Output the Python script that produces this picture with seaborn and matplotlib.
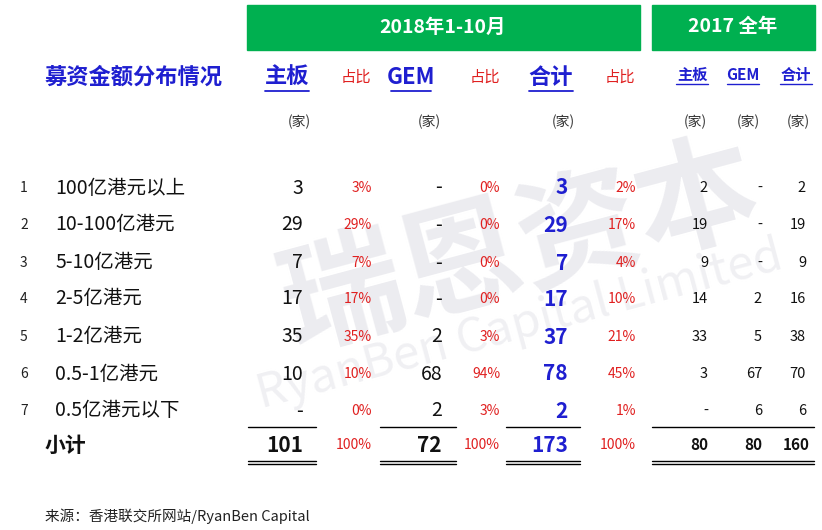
import matplotlib
matplotlib.use("Agg")
import matplotlib.pyplot as plt
import seaborn as sns
from matplotlib.patches import Rectangle

sns.set_theme(style="white")
plt.rcParams["font.family"] = ["Noto Sans CJK SC", "DejaVu Sans"]

categories = ["100亿港元以上", "10-100亿港元", "5-10亿港元", "2-5亿港元", "1-2亿港元", "0.5-1亿港元", "0.5亿港元以下"]
main_board = [3, 29, 7, 17, 35, 10, 0]
main_pct = ["3%", "29%", "7%", "17%", "35%", "10%", "0%"]
gem = [0, 0, 0, 0, 2, 68, 2]
gem_pct = ["0%", "0%", "0%", "0%", "3%", "94%", "3%"]
total = [3, 29, 7, 17, 37, 78, 2]
total_pct = ["2%", "17%", "4%", "10%", "21%", "45%", "1%"]
main_2017 = [2, 19, 9, 14, 33, 3, 0]
gem_2017 = [0, 0, 0, 2, 5, 67, 6]
total_2017 = [2, 19, 9, 16, 38, 70, 6]
subtotal = [101, 72, 173, 80, 80, 160]

GREEN = "#00b050"; BLUE = "#1f1fd0"; RED = "#e02020"

fig = plt.figure(figsize=(8.22, 5.30), dpi=100)
ax = fig.add_axes([0, 0, 1, 1])
ax.set_xlim(0, 822); ax.set_ylim(530, 0); ax.axis("off")

# watermark
ax.text(520, 250, "瑞恩资本", fontsize=88, color="#ececf0", rotation=15, ha="center", va="center", fontweight="bold", zorder=0)
ax.text(520, 325, "RyanBen Capital Limited", fontsize=34, color="#f0f0f3", rotation=15, ha="center", va="center", zorder=0)

ax.add_patch(Rectangle((247, 5), 393, 45, color=GREEN))
ax.add_patch(Rectangle((652, 5), 163, 45, color=GREEN))
ax.text(443, 27, "2018年1-10月", color="white", fontsize=14, fontweight="bold", ha="center", va="center")
ax.text(733, 27, "2017 全年", color="white", fontsize=14, fontweight="bold", ha="center", va="center")

ax.text(45, 77, "募资金额分布情况", color=BLUE, fontsize=16, fontweight="bold", va="center")
def uhead(x, s, fs):
    ax.text(x, 77, s, color=BLUE, fontsize=fs, fontweight="bold", ha="center", va="center")
    w = len(s) * fs * 1.35 if any(ord(c) > 255 for c in s) else len(s) * fs * 0.85
    ax.plot([x - w/2, x + w/2], [91, 91], color=BLUE, lw=1.3)
uhead(287, "主板", 16); uhead(411, "GEM", 16); uhead(551, "合计", 16)
for x in (356, 485, 620):
    ax.text(x, 77, "占比", color=RED, fontsize=11, ha="center", va="center")
for x, s in ((692, "主板"), (743, "GEM"), (796, "合计")):
    ax.text(x, 75, s, color=BLUE, fontsize=11, fontweight="bold", ha="center", va="center")
    ax.plot([x - 16, x + 16], [84, 84], color=BLUE, lw=1)
for x in (299, 429, 563, 695, 748, 798):
    ax.text(x, 122, "(家)", fontsize=10, ha="center", va="center", color="#333333")

rows_y = [188, 225, 263, 299, 337, 374, 411]
def d(v): return "-" if v == 0 else str(v)
for i, y in enumerate(rows_y):
    ax.text(20, y, str(i + 1), fontsize=10, va="center", color="#222222")
    ax.text(55, y, categories[i], fontsize=14, va="center", color="#111111")
    ax.text(303, y, d(main_board[i]), fontsize=14, ha="right", va="center", color="#111111")
    ax.text(372, y, main_pct[i], fontsize=10, ha="right", va="center", color=RED)
    ax.text(442, y, d(gem[i]), fontsize=14, ha="right", va="center", color="#111111")
    ax.text(500, y, gem_pct[i], fontsize=10, ha="right", va="center", color=RED)
    ax.text(568, y, d(total[i]), fontsize=15, fontweight="bold", ha="right", va="center", color=BLUE)
    ax.text(636, y, total_pct[i], fontsize=10, ha="right", va="center", color=RED)
    ax.text(708, y, d(main_2017[i]), fontsize=10.5, ha="right", va="center", color="#111111")
    ax.text(762, y, d(gem_2017[i]), fontsize=10.5, ha="right", va="center", color="#111111")
    ax.text(806, y, d(total_2017[i]), fontsize=10.5, ha="right", va="center", color="#111111")

for x0, x1 in ((248, 316), (380, 456), (506, 580), (652, 814)):
    ax.plot([x0, x1], [427, 427], color="black", lw=1)
    ax.plot([x0, x1], [461, 461], color="black", lw=1)
    ax.plot([x0, x1], [464, 464], color="black", lw=1)
y = 445
ax.text(45, y, "小计", fontsize=15, fontweight="bold", va="center", color="#111111")
ax.text(303, y, str(subtotal[0]), fontsize=15, fontweight="bold", ha="right", va="center", color="#111111")
ax.text(442, y, str(subtotal[1]), fontsize=15, fontweight="bold", ha="right", va="center", color="#111111")
ax.text(568, y, str(subtotal[2]), fontsize=15, fontweight="bold", ha="right", va="center", color=BLUE)
for x in (372, 500, 636):
    ax.text(x, y, "100%", fontsize=10, ha="right", va="center", color=RED)
for x, v in zip((708, 762, 810), subtotal[3:]):
    ax.text(x, y, str(v), fontsize=11, fontweight="bold", ha="right", va="center", color="#111111")

ax.text(45, 516, "来源：香港联交所网站/RyanBen Capital", fontsize=10.5, va="center", color="#222222")
fig.savefig("out.png", dpi=100)
